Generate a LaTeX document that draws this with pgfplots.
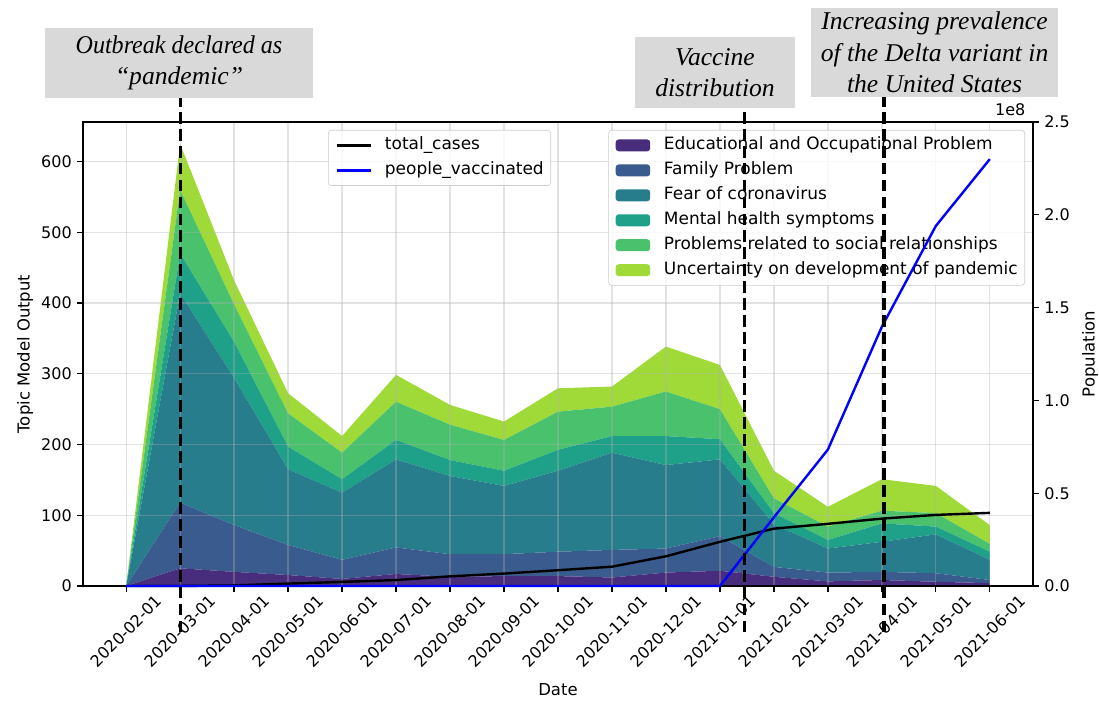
\documentclass[border=0pt]{standalone}
\usepackage{fontspec}
\setmainfont{DejaVu Sans}
\newfontfamily\annfont{Liberation Serif}
\usepackage{graphicx}
\usepackage{pgfplots}
\pgfplotsset{compat=1.18}
\usepackage{pgfplotstable}

\definecolor{cEdu}{HTML}{472D7B}
\definecolor{cFam}{HTML}{3A5B8E}
\definecolor{cFear}{HTML}{287D8D}
\definecolor{cMental}{HTML}{1FA088}
\definecolor{cSocial}{HTML}{4AC16D}
\definecolor{cUnc}{HTML}{A0DA39}
\definecolor{gridc}{HTML}{B0B0B0}
\definecolor{legc}{HTML}{CCCCCC}
\definecolor{boxgray}{HTML}{D9D9D9}

% monthly topic model output, one column per topic (stacked)
\pgfplotstableread{
idx edu fam fear mental social unc
0  0    0    0     0    0    0
1  25   93   296   56   90   65
2  20   66   208   51   53   34
3  15.5 42.5 107   32   47   28.5
4  10   27   95    19   37.5 23.5
5  17   37.5 124.5 27.5 54   38
6  13   32   110.5 22.5 50   28
7  14   31   96.5  21.5 43.5 26
8  14   34.5 114.5 29.5 54   33
9  12   39   137.5 23.5 41.5 28.5
10 19   34   118   41   63   63.5
11 21.5 49   108.5 28.5 42.5 62.5
12 13   14   60.5  15.5 21   39
13 6.5  12.5 34    12   19   28
14 8.5  11.5 42.5  26   18   44.5
15 6    12   55    11   19   38.5
16 4    4.5  28.5  11.5 11   26.5
}\topics

% population figures in units of 1e8
\pgfplotstableread{
idx cases vacc
0  0      0
1  0.0001 0
2  0.003  0
3  0.013  0
4  0.022  0
5  0.032  0
6  0.052  0
7  0.067  0
8  0.085  0
9  0.104  0
10 0.160  0
11 0.238  0
12 0.309  0.37
13 0.335  0.735
14 0.363  1.397
15 0.383  1.94
16 0.394  2.30
}\population

\pgfplotsset{
  common/.style={
    at={(0,0)}, anchor=south west,
    scale only axis, width=593.75pt, height=290pt,
    xmin=-0.8, xmax=16.8,
    tick align=outside, major tick length=3.5pt,
    tick style={black, line width=0.8pt},
    axis line style={line width=0.8pt},
    tick label style={font=\fontsize{10}{12}\selectfont},
    label style={font=\fontsize{10.3}{12}\selectfont},
  },
  mplegend/.style={
    legend cell align=left,
    legend style={
      draw=legc, rounded corners=2pt, fill=white, fill opacity=0.8, text opacity=1,
      font=\fontsize{10.6}{12.5}\selectfont,
      inner xsep=4.4pt, inner ysep=4.2pt, row sep=5pt,
      nodes={inner sep=0pt, text height=8pt, text depth=2.6pt},
    },
  },
}

\begin{document}
\begin{tikzpicture}
\begin{axis}[
  common, mplegend,
  ymin=0, ymax=656,
  stack plots=y,
  axis on top,
  xtick={0,...,16},
  xticklabels={2020-02-01,2020-03-01,2020-04-01,2020-05-01,2020-06-01,2020-07-01,2020-08-01,2020-09-01,2020-10-01,2020-11-01,2020-12-01,2021-01-01,2021-02-01,2021-03-01,2021-04-01,2021-05-01,2021-06-01},
  xticklabel style={rotate=45, anchor=center, xshift=-17.5pt, yshift=-17.5pt},
  ytick={0,100,200,300,400,500,600},
  yticklabels={0,100,200,300,400,500,600},
  xtick pos=lower, ytick pos=left,
  xmajorgrids, ymajorgrids,
  major grid style={color=gridc, opacity=0.35, line width=0.8pt},
  xlabel={Date},
  xlabel style={at={(axis description cs:0.5,-0.224)}, anchor=center},
  ylabel={Topic Model Output},
  ylabel style={at={(axis description cs:-0.061,0.5)}, anchor=center},
  legend style={at={(axis description cs:0.9916,0.983)}, anchor=north east},
  legend image code/.code={\fill[#1, fill opacity=1] (0pt,-3.75pt) rectangle (21.6pt,3.75pt); \path[draw=none, fill=none] (0pt,0pt) -- (30.2pt,0pt);},
]
\addplot[fill=cEdu, draw=none] table[x=idx, y=edu] {\topics} \closedcycle;
\addlegendentry{Educational and Occupational Problem}
\addplot[fill=cFam, draw=none] table[x=idx, y=fam] {\topics} \closedcycle;
\addlegendentry{Family Problem}
\addplot[fill=cFear, draw=none] table[x=idx, y=fear] {\topics} \closedcycle;
\addlegendentry{Fear of coronavirus}
\addplot[fill=cMental, draw=none] table[x=idx, y=mental] {\topics} \closedcycle;
\addlegendentry{Mental health symptoms}
\addplot[fill=cSocial, draw=none] table[x=idx, y=social] {\topics} \closedcycle;
\addlegendentry{Problems related to social relationships}
\addplot[fill=cUnc, draw=none] table[x=idx, y=unc] {\topics} \closedcycle;
\addlegendentry{Uncertainty on development of pandemic}
\end{axis}

\begin{axis}[
  common, mplegend,
  ymin=0, ymax=2.5,
  axis x line=none, axis y line*=right,
  ytick={0,0.5,1,1.5,2,2.5},
  yticklabels={0.0,0.5,1.0,1.5,2.0,2.5},
  ylabel={Population},
  ylabel style={at={(axis description cs:1.06,0.5)}, anchor=center},
  clip=false,
  legend style={at={(axis description cs:0.258,0.983)}, anchor=north west},
  legend image code/.code={\draw[#1, draw opacity=1] (0pt,0pt) -- (21.6pt,0pt); \path[draw=none, fill=none] (0pt,0pt) -- (30.2pt,0pt);},
]
\addplot[black, line width=1.5pt] table[x=idx, y=cases] {\population};
\addlegendentry{total\_cases}
\addplot[blue, line width=1.5pt] table[x=idx, y=vacc] {\population};
\addlegendentry{people\_vaccinated}
% event markers
\draw[black, line width=2pt, dash pattern=on 7.4pt off 3.2pt] (axis cs:1,-0.25) -- (axis cs:1,2.75);
\draw[black, line width=2pt, dash pattern=on 7.4pt off 3.2pt] (axis cs:11.45,-0.25) -- (axis cs:11.45,2.75);
\draw[black, line width=2pt, dash pattern=on 7.4pt off 3.2pt] (axis cs:14.04,-0.25) -- (axis cs:14.04,2.75);
\node[font=\fontsize{10}{12}\selectfont, inner sep=0pt] at (rel axis cs:0.976,1.026) {1e8};
\end{axis}

\tikzset{ann/.style={fill=boxgray, inner sep=0pt, align=center,
  font=\annfont\itshape\fontsize{16}{19.6}\selectfont}}
\node[ann, minimum width=167.5pt, minimum height=43.75pt] at (60pt,326.9pt) {\scalebox{0.94}[1]{Outbreak declared as}\\“pandemic”};
\node[ann, minimum width=100pt, minimum height=44.4pt] at (395pt,320.9pt) {Vaccine\\distribution};
\node[ann, minimum width=154.4pt, minimum height=55.6pt] at (532.2pt,333.5pt) {Increasing prevalence\\of the Delta variant in\\the United States};

\pgfresetboundingbox
\path (-51.875pt,-75pt) rectangle (635pt,366.25pt);
\end{tikzpicture}
\end{document}
